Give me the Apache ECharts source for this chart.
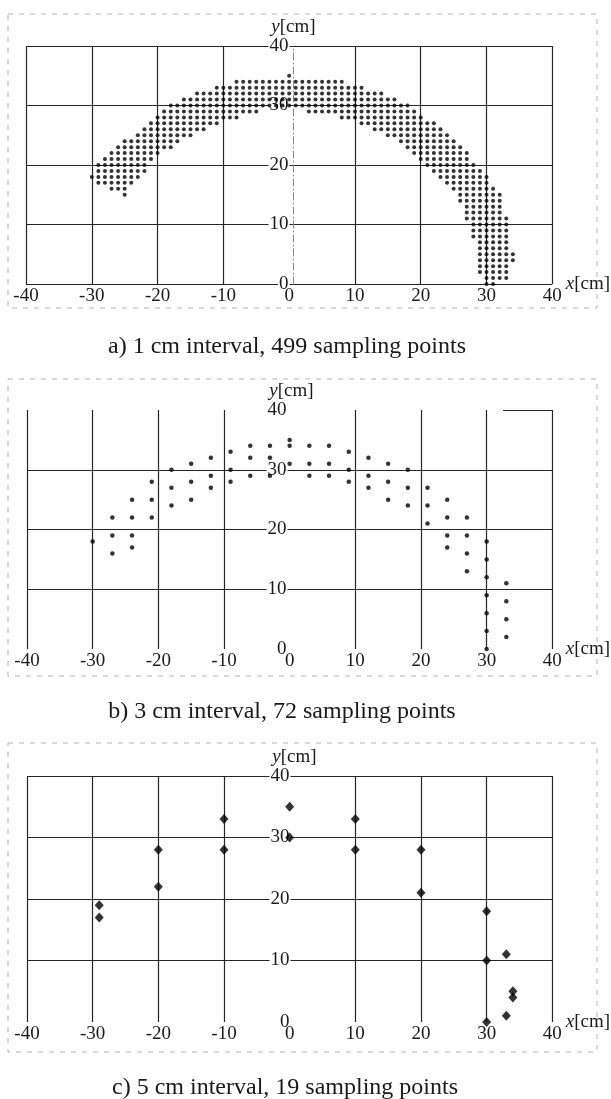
<!DOCTYPE html>
<html>
<head>
<meta charset="utf-8">
<script src="https://cdn.jsdelivr.net/npm/echarts@6/dist/echarts.min.js"></script>
<style>
html, body { margin: 0; padding: 0; background: #fff; }
#chart { width: 611px; height: 1099px; }
</style>
</head>
<body>
<div id="chart"></div>
<script>
// a) 1 cm interval: dots read row by row, each row is y with an x span [from, to]
const aRowY    = [35, 34, 33, 32, 31, 30, 29, 29, 28, 28, 27, 27, 26, 26, 25, 25, 24, 24, 23, 23,
                  22, 22, 21, 21, 20, 20, 19, 19, 18, 18, 17, 17, 16, 16, 15, 15,
                  14, 13, 12, 11, 10, 9, 8, 7, 6, 5, 4, 3, 2, 1, 0]
const aRowFrom = [0, -8, -11, -14, -16, -18, -19, 3, -20, 8, -21, 11, -22, 13, -23, 15, -25, 17, -26, 18,
                  -27, 19, -28, 20, -29, 21, -29, 22, -30, 23, -29, 24, -27, 25, -25, 26,
                  26, 27, 27, 27, 28, 28, 28, 29, 29, 29, 29, 29, 29, 30, 30]
const aRowTo   = [0, 8, 11, 14, 16, 18, -5, 19, -8, 20, -11, 22, -13, 23, -15, 24, -17, 25, -18, 26,
                  -20, 27, -21, 27, -22, 28, -22, 29, -23, 30, -24, 30, -25, 31, -25, 32,
                  32, 32, 32, 33, 33, 33, 33, 33, 33, 34, 34, 33, 33, 33, 31]

// b) 3 cm interval, 72 points
const bX = [-30, -27, -27, -27, -24, -24, -24, -24, -21, -21, -21, -18, -18, -18, -15, -15, -15,
            -12, -12, -12, -9, -9, -9, -6, -6, -6, -3, -3, -3, 0, 0, 0, 3, 3, 3, 6, 6, 6,
            9, 9, 9, 12, 12, 12, 15, 15, 15, 18, 18, 18, 21, 21, 21, 24, 24, 24, 24,
            27, 27, 27, 27, 30, 30, 30, 30, 30, 30, 30, 33, 33, 33, 33]
const bY = [18, 22, 19, 16, 25, 22, 19, 17, 28, 25, 22, 30, 27, 24, 31, 28, 25,
            32, 29, 27, 33, 30, 28, 34, 32, 29, 34, 32, 29, 35, 34, 31, 34, 31, 29, 34, 31, 29,
            33, 30, 28, 32, 29, 27, 31, 28, 25, 30, 27, 24, 27, 24, 21, 25, 22, 19, 17,
            22, 19, 16, 13, 18, 15, 12, 9, 6, 3, 0, 11, 8, 5, 2]

// c) 5 cm interval, 19 points
const cX = [-29, -29, -20, -20, -10, -10, 0, 0, 10, 10, 20, 20, 30, 30, 30, 33, 34, 34, 33]
const cY = [19, 17, 28, 22, 33, 28, 35, 30, 33, 28, 28, 21, 18, 10, 0, 11, 5, 4, 1]

const xTicks = [-40, -30, -20, -10, 0, 10, 20, 30, 40]
const yTicks = [0, 10, 20, 30, 40]
const captions = [
    'a) 1 cm interval, 499 sampling points',
    'b) 3 cm interval, 72 sampling points',
    'c) 5 cm interval, 19 sampling points',
]

const FONT = '"Liberation Serif", "Times New Roman", serif'
const INK = '#1a1a1a'
const GRID = '#262626'
const W = 611

const aPoints = []
aRowY.forEach((y, i) => {
    for (let x = aRowFrom[i]; x <= aRowTo[i]; x++) aPoints.push([x, y])
})
const bPoints = bX.map((x, i) => [x, bY[i]])
const cPoints = cX.map((x, i) => [x, cY[i]])

// which grid lines the scan actually shows
const xLines = xTicks.map(v => v === 0 ? 'transparent' : GRID)
const yLinesA = yTicks.map(() => GRID)
const yLinesB = yTicks.map(v => (v === 0 || v === 40) ? 'transparent' : GRID)
const yLinesC = yTicks.map(v => v === 0 ? 'transparent' : GRID)

const grids = [
    { left: 26, right: 50, top: 46, height: 238 },
    { left: 27, right: 55, top: 410, height: 239 },
    { left: 27, right: 49, top: 776, height: 246 },
]

const xAxisFor = (gridIndex) => ({
    type: 'value',
    gridIndex,
    min: xTicks[0],
    max: xTicks[xTicks.length - 1],
    interval: 10,
    name: '{i|x}[cm]',
    nameLocation: 'end',
    nameGap: 3,
    nameTextStyle: {
        color: INK, fontFamily: FONT, fontSize: 19,
        rich: { i: { fontStyle: 'italic', fontFamily: FONT, fontSize: 19, color: INK } },
    },
    axisLine: { show: false },
    axisTick: { show: false },
    axisLabel: { color: INK, fontFamily: FONT, fontSize: 19, margin: 3 },
    splitLine: { show: true, lineStyle: { color: xLines, width: 1.2 } },
})

// y axis sits at x = 0, in the middle of the grid
const yAxisFor = (gridIndex, lineColors, showAxis) => {
    const g = grids[gridIndex]
    const mid = (W - g.left - g.right) / 2
    return {
        type: 'value',
        gridIndex,
        position: 'left',
        offset: -mid,
        min: yTicks[0],
        max: yTicks[yTicks.length - 1],
        interval: 10,
        name: '{i|y}[cm]',
        nameLocation: 'end',
        nameGap: 6,
        nameTextStyle: {
            color: INK, fontFamily: FONT, fontSize: 19, align: 'center',
            rich: { i: { fontStyle: 'italic', fontFamily: FONT, fontSize: 19, color: INK } },
        },
        axisLine: {
            show: showAxis,
            onZero: false,
            lineStyle: { color: '#8a8a8a', width: 1, type: [7, 3, 1, 3] },
        },
        axisTick: { show: false },
        axisLabel: {
            color: INK, fontFamily: FONT, fontSize: 19, margin: 4,
            backgroundColor: '#fff', padding: [0, 1],
        },
        splitLine: { show: true, lineStyle: { color: lineColors, width: 1.2 } },
    }
}

const frame = (x, y, w, h) => ({
    type: 'rect',
    shape: { x, y, width: w, height: h },
    style: { fill: 'none', stroke: '#b5b5b5', lineWidth: 1, lineDash: [5, 6] },
    silent: true,
})

const caption = (text, x, y) => ({
    type: 'text',
    x, y,
    style: {
        text, fill: INK, font: '24px ' + FONT,
        align: 'center', verticalAlign: 'middle',
    },
    silent: true,
})

const option = {
    backgroundColor: '#fff',
    animation: false,
    grid: grids,
    xAxis: [xAxisFor(0), xAxisFor(1), xAxisFor(2)],
    yAxis: [
        yAxisFor(0, yLinesA, true),
        yAxisFor(1, yLinesB, false),
        yAxisFor(2, yLinesC, false),
    ],
    series: [
        {
            type: 'scatter', xAxisIndex: 0, yAxisIndex: 0, data: aPoints,
            symbol: 'circle', symbolSize: 4, itemStyle: { color: '#000' }, silent: true, z: 5,
        },
        {
            type: 'scatter', xAxisIndex: 1, yAxisIndex: 1, data: bPoints,
            symbol: 'circle', symbolSize: 4.5, itemStyle: { color: '#000' }, silent: true, z: 5,
            // short piece of the top border left over in the scan
            markLine: {
                silent: true, symbol: 'none', label: { show: false },
                lineStyle: { color: GRID, width: 1.2, type: 'solid' },
                data: [[{ coord: [32.5, 40] }, { coord: [40, 40] }]],
            },
        },
        {
            type: 'scatter', xAxisIndex: 2, yAxisIndex: 2, data: cPoints,
            symbol: 'diamond', symbolSize: [9, 10], itemStyle: { color: '#000' }, silent: true, z: 5,
        },
    ],
    graphic: [
        frame(8, 14, 589, 294),
        frame(8, 379, 589, 297),
        frame(8, 743, 589, 309),
        caption(captions[0], 287, 347),
        caption(captions[1], 282, 712),
        caption(captions[2], 285, 1088),
    ],
}

const chart = echarts.init(document.getElementById('chart'))
chart.setOption(option)
</script>
</body>
</html>
